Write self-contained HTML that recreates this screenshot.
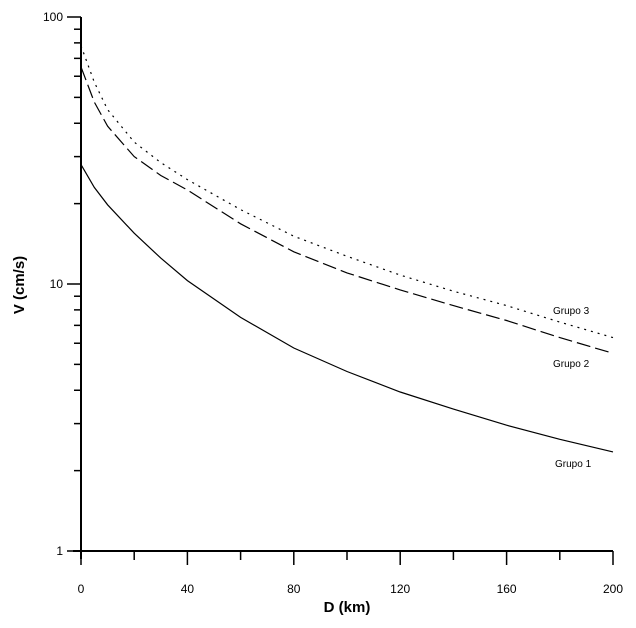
<!DOCTYPE html>
<html><head><meta charset="utf-8"><style>
body{margin:0;background:#fff}
svg text{font-family:"Liberation Sans",sans-serif;fill:#000}
</style></head><body>
<svg id="chart" width="636" height="623" viewBox="0 0 636 623" xmlns="http://www.w3.org/2000/svg">
<g id="axes"></g><g id="series"></g>
<text x="347" y="612" font-size="15" font-weight="bold" text-anchor="middle">D (km)</text>
<text transform="translate(24,285) rotate(-90)" font-size="15" font-weight="bold" text-anchor="middle">V (cm/s)</text>
</svg>
<script>
const distances=[0,5,10,20,30,40,60,80,100,120,140,160,180,200];
const grupo1=[28,23,19.8,15.5,12.5,10.3,7.5,5.76,4.7,3.94,3.4,2.96,2.62,2.35];
const grupo2=[65,48,39,30,25.5,22.5,16.8,13.2,11,9.5,8.3,7.3,6.3,5.5];
const grupo3=[78,57,45,34,28.5,24.6,19,15.1,12.7,10.8,9.4,8.3,7.2,6.3];
const xTicks=[0,40,80,120,160,200];
const yTicks=[1,10,100];
const seriesNames=["Grupo 1","Grupo 2","Grupo 3"];
const X0=81,X1=613,Y1=551,Y100=17;
const xs=d=>X0+(d/200)*(X1-X0);
const ys=v=>Y1-Math.log10(v)/2*(Y1-Y100);
const NS="http://www.w3.org/2000/svg";
const ax=document.getElementById('axes'),sg=document.getElementById('series');
function mk(tag,at,parent){const e=document.createElementNS(NS,tag);for(const k in at)e.setAttribute(k,at[k]);parent.appendChild(e);return e;}
let l=mk('line',{x1:X0,y1:Y100,x2:X0,y2:Y1+8,stroke:'#000','stroke-width':2},ax);


l=mk('line',{x1:X0-8,y1:Y1,x2:X1,y2:Y1,stroke:'#000','stroke-width':2},ax);


for(let d=0;d<=200;d+=20){const major=d%40===0;
 l=mk('line',{x1:xs(d),y1:Y1,x2:xs(d),y2:Y1+(major?14:9),stroke:'#000','stroke-width':1.5},ax);
 
 }
xTicks.forEach(d=>{const t=mk('text',{x:xs(d),y:593,'font-size':12,'text-anchor':'middle'},ax);t.textContent=d;
 
 });
for(let dec=1;dec<100;dec*=10){for(let m=1;m<10;m++){const v=dec*m;const major=m===1;
 l=mk('line',{x1:X0-(major?14:7),y1:ys(v),x2:X0,y2:ys(v),stroke:'#000','stroke-width':1.5},ax);
 
 }}
l=mk('line',{x1:X0-14,y1:ys(100),x2:X0,y2:ys(100),stroke:'#000','stroke-width':1.5},ax);


yTicks.forEach(v=>{const t=mk('text',{x:X0-18,y:ys(v)+4,'font-size':12,'text-anchor':'end'},ax);t.textContent=v;
 
 });
const dashes=['none','14,5','2,5'];
const labelPos=[[555,467],[553,367],[553,314]];
[grupo1,grupo2,grupo3].forEach((vals,i)=>{
 const pts=distances.map((d,j)=>xs(d).toFixed(1)+','+ys(vals[j]).toFixed(1)).join(' ');
 const p=mk('polyline',{points:pts,fill:'none',stroke:'#000','stroke-width':1.2,'stroke-dasharray':dashes[i]},sg);
 
 
 const t=mk('text',{x:labelPos[i][0],y:labelPos[i][1],'font-size':10},sg);t.textContent=seriesNames[i];
 
 
});
</script>
</body></html>
